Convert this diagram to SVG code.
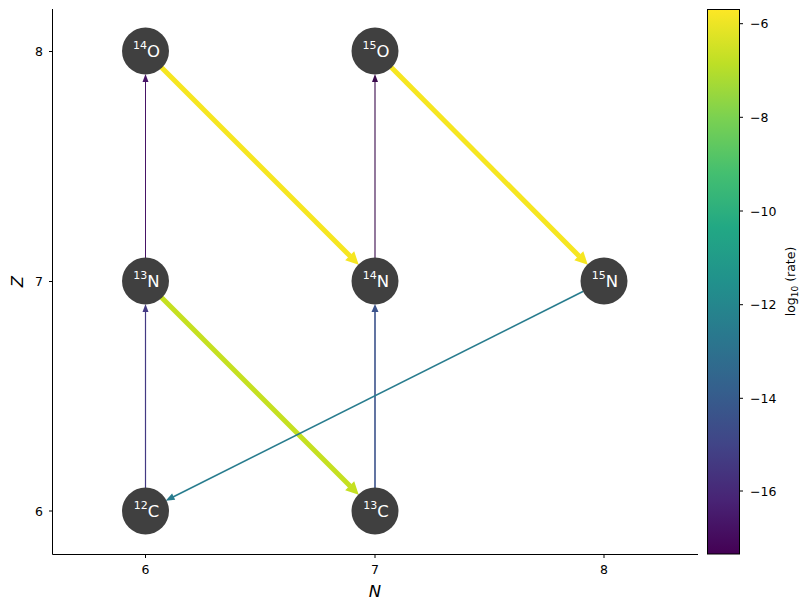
<svg xmlns="http://www.w3.org/2000/svg" width="811" height="611" viewBox="0 0 811 611">
<defs>
<linearGradient id="viridis" x1="0" y1="1" x2="0" y2="0">
<stop offset="0" stop-color="#440154"/>
<stop offset="0.1" stop-color="#482475"/>
<stop offset="0.2" stop-color="#414487"/>
<stop offset="0.3" stop-color="#355f8d"/>
<stop offset="0.4" stop-color="#2a788e"/>
<stop offset="0.5" stop-color="#21918c"/>
<stop offset="0.6" stop-color="#22a884"/>
<stop offset="0.7" stop-color="#44bf70"/>
<stop offset="0.8" stop-color="#7ad151"/>
<stop offset="0.9" stop-color="#bddf26"/>
<stop offset="1" stop-color="#fde725"/>
</linearGradient>
</defs>
<style>
.txt{font-family:"DejaVu Sans",sans-serif;fill:#000}
.tick{font-size:12.5px}
.axl{font-size:16.5px;font-style:italic}
.spine{stroke:#000;stroke-width:1;fill:none}
.node circle{fill:#404040}
.node text{font-family:"DejaVu Sans",sans-serif;fill:#fff;text-anchor:middle}
.sup{font-size:11px}
.el{font-size:16.5px}
.e{fill:none;stroke-linecap:butt}
</style>
<rect width="811" height="611" fill="#fff"/>

<!-- axes -->
<g id="axes">
<path class="spine" d="M52.5,9 V554.5 H698"/>
<path class="spine" d="M145.5,554.5 v3.5 M375,554.5 v3.5 M604,554.5 v3.5 M52.5,51.5 h-3.5 M52.5,281.5 h-3.5 M52.5,511 h-3.5"/>
<text class="txt tick" x="145.5" y="574" text-anchor="middle">6</text>
<text class="txt tick" x="375" y="574" text-anchor="middle">7</text>
<text class="txt tick" x="604" y="574" text-anchor="middle">8</text>
<text class="txt tick" x="43" y="56" text-anchor="end">8</text>
<text class="txt tick" x="43" y="286" text-anchor="end">7</text>
<text class="txt tick" x="43" y="515.5" text-anchor="end">6</text>
<text class="txt axl" x="375" y="597" text-anchor="middle">N</text>
<text class="txt axl" transform="translate(23,281.5) rotate(-90)" text-anchor="middle">Z</text>
</g>

<!-- colorbar -->
<g id="colorbar">
<rect x="707.5" y="9.5" width="32" height="544.5" fill="url(#viridis)" stroke="#000" stroke-width="1"/>
<path class="spine" d="M739.5,23.7 h3.5 M739.5,117.3 h3.5 M739.5,211 h3.5 M739.5,304.7 h3.5 M739.5,398.3 h3.5 M739.5,491 h3.5"/>
<text class="txt tick" x="750" y="28.2">−6</text>
<text class="txt tick" x="750" y="121.8">−8</text>
<text class="txt tick" x="750" y="215.5">−10</text>
<text class="txt tick" x="750" y="309.2">−12</text>
<text class="txt tick" x="750" y="402.8">−14</text>
<text class="txt tick" x="750" y="495.5">−16</text>
<text class="txt" font-size="12.5" transform="translate(795,281.5) rotate(-90)" text-anchor="middle">log<tspan font-size="9" dy="2.5">10</tspan><tspan dy="-2.5"> (rate)</tspan></text>
</g>

<!-- connectors -->
<g id="connectors">
<g id="e-12C-13N" stroke="#443a83" fill="#443a83">
<path class="e" stroke-width="1.2" d="M145.5,488 V311"/>
<polygon stroke="none" points="145.5,304 148.5,312 142.5,312"/>
</g>
<g id="e-13N-14O" stroke="#471466" fill="#471466">
<path class="e" stroke-width="1" d="M145.5,258 V81"/>
<polygon stroke="none" points="145.5,74 148.5,82 142.5,82"/>
</g>
<g id="e-13C-14N" stroke="#3b528b" fill="#3b528b">
<path class="e" stroke-width="1.6" d="M375,488 V311"/>
<polygon stroke="none" points="375,304 378.5,312 371.5,312"/>
</g>
<g id="e-14N-15O" stroke="#3a0a4c" fill="#3a0a4c">
<path class="e" stroke-width="1.1" d="M375,258 V81"/>
<polygon stroke="none" points="375,74 378,82 372,82"/>
</g>
<g id="e-14O-14N" stroke="#f6e621" fill="#f6e621">
<path class="e" stroke-width="5" d="M161.3,67.3 L350,256"/>
<polygon stroke="none" points="358.7,264.7 345.2,260.2 354.2,251.2"/>
</g>
<g id="e-15O-15N" stroke="#f6e621" fill="#f6e621">
<path class="e" stroke-width="5" d="M391.2,67.3 L579,256"/>
<polygon stroke="none" points="587.8,264.7 574.3,260.2 583.3,251.2"/>
</g>
<g id="e-13N-13C" stroke="#c5e021" fill="#c5e021">
<path class="e" stroke-width="5" d="M161.3,297.3 L350,486"/>
<polygon stroke="none" points="358.7,494.7 345.2,490.2 354.2,481.2"/>
</g>
<g id="e-15N-12C" stroke="#287c8e" fill="#287c8e">
<path class="e" stroke-width="1.6" d="M583.4,291.3 L173,497"/>
<polygon stroke="none" points="165.6,500.7 172.1,493.6 175.2,499.8"/>
</g>
</g>

<!-- nodes -->
<g id="n-14O" class="node"><circle cx="145.5" cy="51" r="23.5"/><text x="146.5" y="57"><tspan class="sup" dy="-8">14</tspan><tspan class="el" dy="8">O</tspan></text></g>
<g id="n-15O" class="node"><circle cx="375" cy="51" r="23.5"/><text x="376" y="57"><tspan class="sup" dy="-8">15</tspan><tspan class="el" dy="8">O</tspan></text></g>
<g id="n-13N" class="node"><circle cx="145.5" cy="281" r="23.5"/><text x="146.5" y="287"><tspan class="sup" dy="-8">13</tspan><tspan class="el" dy="8">N</tspan></text></g>
<g id="n-14N" class="node"><circle cx="375" cy="281" r="23.5"/><text x="376" y="287"><tspan class="sup" dy="-8">14</tspan><tspan class="el" dy="8">N</tspan></text></g>
<g id="n-15N" class="node"><circle cx="604" cy="281" r="23.5"/><text x="605" y="287"><tspan class="sup" dy="-8">15</tspan><tspan class="el" dy="8">N</tspan></text></g>
<g id="n-12C" class="node"><circle cx="145.5" cy="511" r="23.5"/><text x="146.5" y="517"><tspan class="sup" dy="-8">12</tspan><tspan class="el" dy="8">C</tspan></text></g>
<g id="n-13C" class="node"><circle cx="375" cy="511" r="23.5"/><text x="376" y="517"><tspan class="sup" dy="-8">13</tspan><tspan class="el" dy="8">C</tspan></text></g>
</svg>
